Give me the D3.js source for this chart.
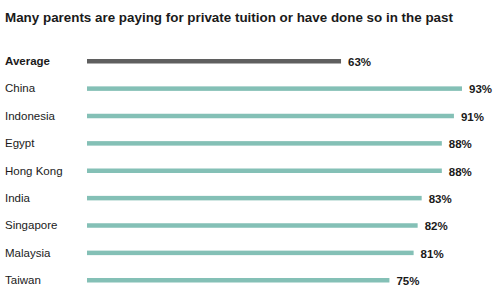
<!DOCTYPE html>
<html>
<head>
<meta charset="utf-8">
<script src="https://cdn.jsdelivr.net/npm/d3@7"></script>
<style>
  body { margin: 0; background: #fff; }
  text { font-family: "Liberation Sans", Arial, sans-serif; fill: #1a1a1a; }
</style>
</head>
<body>
<svg id="chart"></svg>
<script>
// data
var countries = ["Average", "China", "Indonesia", "Egypt", "Hong Kong", "India", "Singapore", "Malaysia", "Taiwan"];
var values = [63, 93, 91, 88, 88, 83, 82, 81, 75];

var w = 500;
var h = 287;

var svg = d3.select("#chart")
  .attr("width", w)
  .attr("height", h);

// title
svg.append("text")
  .text("Many parents are paying for private tuition or have done so in the past")
  .attr("x", 5)
  .attr("y", 22)
  .attr("font-size", "13.4px")
  .attr("font-weight", "bold");

var xScale = d3.scaleLinear()
  .domain([0, 93])
  .range([87, 462]);

var yScale = d3.scalePoint()
  .domain(countries)
  .range([61, 280]);

// rows
countries.forEach(function(c, i) {
  var y = yScale(c);
  var isAvg = (c === "Average");

  svg.append("text")
    .text(c)
    .attr("x", 5)
    .attr("y", y + 4)
    .attr("font-size", "11.5px")
    .attr("font-weight", isAvg ? "bold" : "normal");

  svg.append("rect")
    .attr("x", xScale(0))
    .attr("y", y - 2)
    .attr("width", xScale(values[i]) - xScale(0))
    .attr("height", 4.5)
    .attr("fill", isAvg ? "#5f5f5f" : "#84c0b6");

  svg.append("text")
    .text(values[i] + "%")
    .attr("x", xScale(values[i]) + 7)
    .attr("y", y + 5)
    .attr("font-size", "11.5px")
    .attr("font-weight", "bold");
});
</script>
</body>
</html>
